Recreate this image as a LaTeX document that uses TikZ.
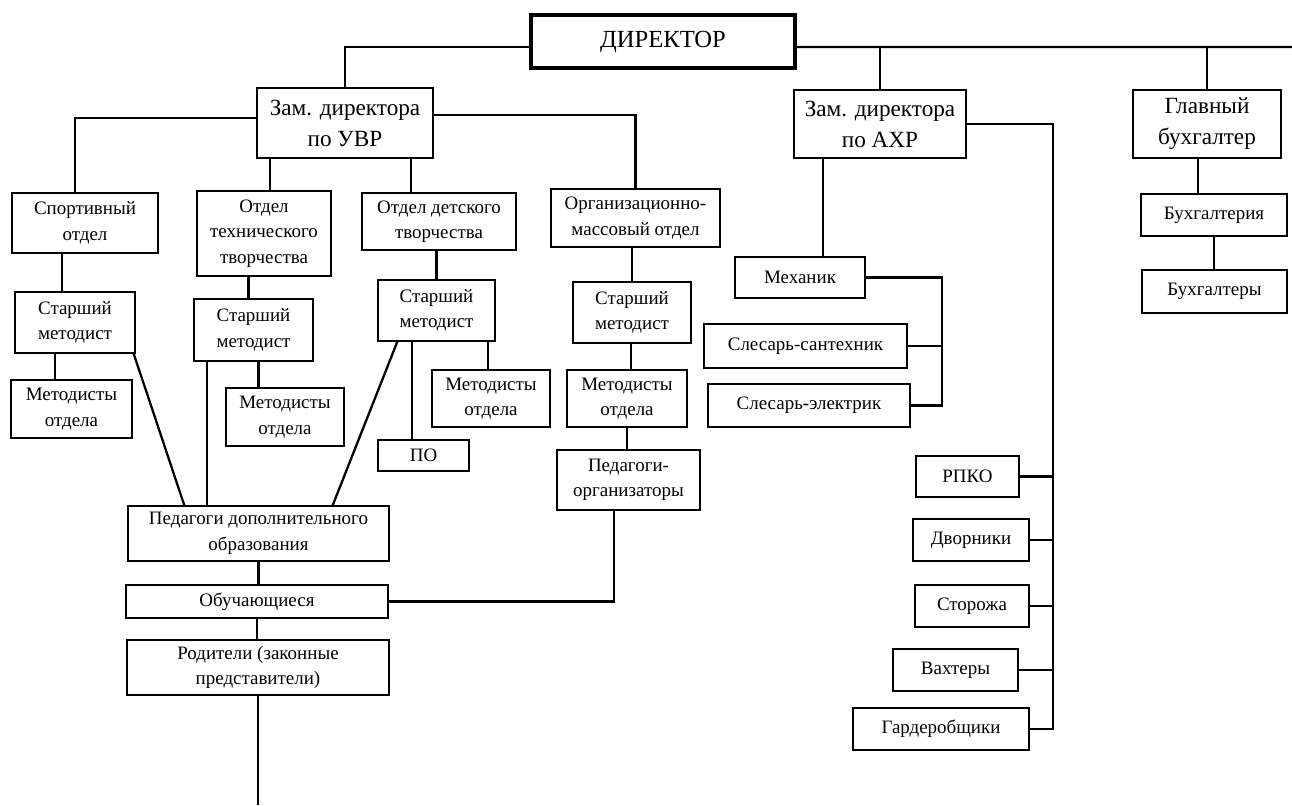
\documentclass[tikz,border=0pt]{standalone}
\usepackage{fontspec}
\setmainfont{Liberation Serif}
\begin{document}
\begin{tikzpicture}[x=0.02cm, y=-0.02cm,
        box/.style={draw, line width=0.75pt, align=center, inner sep=1pt, font=\fontsize{10.8}{14.5}\selectfont},
        big/.style={font=\fontsize{13.2}{17.6}\selectfont},
        wh/.style 2 args={minimum width=#1*0.02cm, minimum height=#2*0.02cm},
        conn/.style={line width=1.3pt}]
        \useasboundingbox (0,0) rectangle (1292,805);
        \node[box, wh={264}{53}, line width=2pt, font=\fontsize{14}{17}\selectfont] (dir) at (663,41.5) {ДИРЕКТОР};
        \node[box, big, wh={176}{70}] (uvr) at (345,123) {Зам. директора\\по УВР};
        \node[box, big, wh={172}{68}] (axr) at (880,124) {Зам. директора\\по АХР};
        \node[box, big, wh={148}{68}] (glb) at (1207,124) {Главный\\бухгалтер};
        \node[box, wh={146}{60}] (sport) at (85,223) {Спортивный\\отдел};
        \node[box, wh={134}{85}] (tech) at (264,233.5) {Отдел\\технического\\творчества};
        \node[box, wh={154}{57}] (det) at (439,221.5) {Отдел детского\\творчества};
        \node[box, wh={169}{58}] (org) at (635.5,218) {Организационно-\\массовый отдел};
        \node[box, wh={120}{61}] (sm1) at (75,322.5) {Старший\\методист};
        \node[box, wh={121}{58}] (met1) at (71.5,409) {Методисты\\отдела};
        \node[box, wh={119}{62}] (sm2) at (253.5,330) {Старший\\методист};
        \node[box, wh={118}{58}] (met2) at (285,417) {Методисты\\отдела};
        \node[box, wh={117}{61}] (sm3) at (436.5,310.5) {Старший\\методист};
        \node[box, wh={118}{57}] (met3) at (491,398.5) {Методисты\\отдела};
        \node[box, wh={91}{31}] (po) at (423.5,455.5) {ПО};
        \node[box, wh={118}{61}] (sm4) at (632,312.5) {Старший\\методист};
        \node[box, wh={120}{57}] (met4) at (627,398.5) {Методисты\\отдела};
        \node[box, wh={143}{60}] (porg) at (628.5,480) {Педагоги-\\организаторы};
        \node[box, wh={261}{55}] (pdo) at (258.5,533.5) {Педагоги дополнительного\\образования};
        \node[box, wh={262}{33}] (obu) at (257,601.5) {Обучающиеся};
        \node[box, wh={262}{55}] (rod) at (258,667.5) {Родители (законные\\представители)};
        \node[box, wh={130}{41}] (mech) at (800,277.5) {Механик};
        \node[box, wh={203}{44}] (sant) at (805.5,346) {Слесарь-сантехник};
        \node[box, wh={202}{43}] (elek) at (809,405.5) {Слесарь-электрик};
        \node[box, wh={103}{41}] (rpko) at (967.5,476.5) {РПКО};
        \node[box, wh={116}{42}] (dvor) at (971,540) {Дворники};
        \node[box, wh={114}{42}] (stor) at (972,606) {Сторожа};
        \node[box, wh={125}{42}] (vaht) at (955.5,670) {Вахтеры};
        \node[box, wh={176}{42}] (gard) at (941,729) {Гардеробщики};
        \node[box, wh={146}{42}] (buh) at (1214,215) {Бухгалтерия};
        \node[box, wh={145}{43}] (buhs) at (1214.5,291.5) {Бухгалтеры};
        \coordinate (rend) at (1292,47);
        \coordinate (rbot) at (258,805);
        \coordinate (spine) at (1053,124);
        \draw[conn] ([yshift=-0.11cm]dir.west) -| (uvr.north);
        \draw[conn] ([yshift=-0.11cm]dir.east) -- (rend);
        \draw[conn] (axr.north) -- (axr.north |- rend);
        \draw[conn] (glb.north) -- (glb.north |- rend);
        \draw[conn] ([yshift=0.1cm]uvr.west) -| ([xshift=-0.2cm]sport.north);
        \draw[conn] ([xshift=0.12cm]tech.north) -- ([xshift=0.12cm]tech.north |- uvr.south);
        \draw[conn] ([xshift=-0.56cm]det.north) -- ([xshift=-0.56cm]det.north |- uvr.south);
        \draw[conn] ([yshift=0.16cm]uvr.east) -| (org.north);
        \draw[conn] ([xshift=-0.26cm]sm1.north) -- ([xshift=-0.26cm]sm1.north |- sport.south);
        \draw[conn] ([xshift=-0.33cm]met1.north) -- ([xshift=-0.33cm]met1.north |- sm1.south);
        \draw[conn] ([xshift=-0.04cm]sm1.south east) -- ([xshift=1.14cm]pdo.north west);
        \draw[conn] ([xshift=-0.1cm]sm2.north) -- ([xshift=-0.1cm]sm2.north |- tech.south);
        \draw[conn] ([xshift=0.1cm]sm2.south) -- ([xshift=0.1cm]sm2.south |- met2.north);
        \draw[conn] ([xshift=0.28cm]sm2.south west) -- ([xshift=0.28cm]sm2.south west |- pdo.north);
        \draw[conn] (sm3.north) -- (sm3.north |- det.south);
        \draw[conn] ([xshift=-0.23cm]po.north) -- ([xshift=-0.23cm]po.north |- sm3.south);
        \draw[conn] ([xshift=-0.06cm]met3.north) -- ([xshift=-0.06cm]met3.north |- sm3.south);
        \draw[conn] ([xshift=0.4cm]sm3.south west) -- ([xshift=-1.14cm]pdo.north east);
        \draw[conn] (sm4.north) -- (sm4.north |- org.south);
        \draw[conn] ([xshift=0.08cm]met4.north) -- ([xshift=0.08cm]met4.north |- sm4.south);
        \draw[conn] (met4.south) -- (met4.south |- porg.north);
        \draw[conn] ([xshift=-0.29cm]porg.south) |- (obu.east);
        \draw[conn] (pdo.south) -- (pdo.south |- obu.north);
        \draw[conn] (obu.south) -- (obu.south |- rod.north);
        \draw[conn] (rod.south) -- (rod.south |- rbot);
        \draw[conn] ([xshift=0.46cm]mech.north) -- ([xshift=0.46cm]mech.north |- axr.south);
        \draw[conn] (mech.east) -| ([xshift=0.62cm]elek.east) -- (elek.east);
        \draw[conn] (sant.east) -- ([xshift=0.68cm]sant.east);
        \draw[conn] (axr.east) -- (spine) -- (spine |- gard.east) -- (gard.east);
        \draw[conn] (rpko.east) -- (rpko.east -| spine);
        \draw[conn] (dvor.east) -- (dvor.east -| spine);
        \draw[conn] (stor.east) -- (stor.east -| spine);
        \draw[conn] (vaht.east) -- (vaht.east -| spine);
        \draw[conn] ([xshift=-0.18cm]glb.south) -- ([xshift=-0.18cm]glb.south |- buh.north);
        \draw[conn] (buh.south) -- (buh.south |- buhs.north);
    \end{tikzpicture}
\end{document}
